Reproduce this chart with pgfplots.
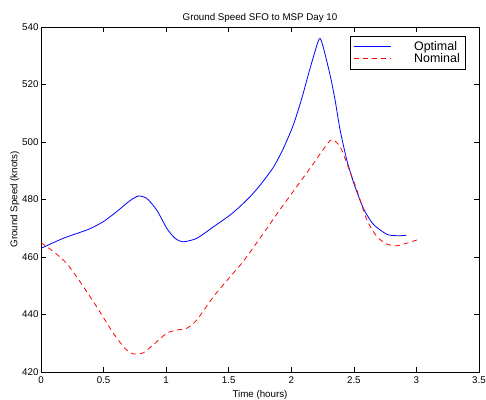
\documentclass[border=0pt]{standalone}
\usepackage{fontspec}
\setmainfont{Liberation Sans}
\usepackage{pgfplots}
\pgfplotsset{compat=1.18}

\begin{document}
\begin{tikzpicture}
\useasboundingbox (-41bp,-28bp) rectangle (445bp,372bp);
\begin{axis}[
    at={(0,0)}, anchor=south west,
    scale only axis,
    width=438bp, height=345bp,
    xmin=0, xmax=3.5,
    ymin=420, ymax=540,
    xtick={0,0.5,...,3.5},
    ytick={420,440,...,540},
    xticklabels={0,0.5,1,1.5,2,2.5,3,3.5},
    tick align=inside,
    major tick length=5bp,
    axis line style={line width=0.8pt},
    tick style={line width=0.6pt, black},
    /pgf/number format/assume math mode=true,
    tick label style={font=\fontsize{9.8}{11}\selectfont},
    yticklabel style={xshift=1bp},
    xticklabel style={yshift=-1bp},
    title={Ground Speed SFO to MSP Day 10},
    title style={font=\fontsize{9.8}{11}\selectfont, yshift=-5bp},
    xlabel={Time (hours)},
    ylabel={Ground Speed (knots)},
    label style={font=\fontsize{9.8}{11}\selectfont},
    xlabel style={yshift=0bp},
    ylabel style={yshift=-4bp},
    legend style={
        at={(axis description cs:1,1)}, anchor=north east,
        xshift=-14bp, yshift=-9.3bp,
        font=\fontsize{12.5}{11}\selectfont,
        inner xsep=3bp, inner ysep=3bp,
        row sep=-2.5bp, column sep=21bp,
    },
    legend cell align=left,
    legend image code/.code={
        \draw[#1] (0bp,0bp) -- (37bp,0bp);
    },
]
\addplot[color=blue, line width=0.8pt, smooth, tension=0.4] coordinates {
(0,463.0)(0.178,466.5)(0.378,469.6)(0.498,472.3)(0.605,475.8)(0.711,479.6)(0.778,481.2)(0.845,480.4)(0.925,476.3)(1.005,470)(1.071,466.5)(1.138,465.3)(1.245,466.5)(1.378,470.5)(1.511,474.6)(1.591,477.6)(1.671,481)(1.751,485)(1.857,491.2)(1.937,497.8)(2.017,506)(2.084,515.2)(2.150,525.6)(2.222,535.8)(2.252,533.5)(2.310,523.3)(2.350,514.6)(2.390,504.2)(2.444,493.7)(2.497,486)(2.577,476.8)(2.657,471.3)(2.763,467.9)(2.843,467.4)(2.918,467.5)
};
\addplot[color=red, line width=0.8pt, dash pattern=on 5bp off 4bp, smooth, tension=0.4] coordinates {
(0,465)(0.099,461.9)(0.205,457.8)(0.312,451.4)(0.445,442.7)(0.578,433.5)(0.671,428.2)(0.738,426.3)(0.818,426.7)(0.911,430)(1.005,433.5)(1.085,434.6)(1.165,435.2)(1.245,438.1)(1.378,446.2)(1.511,453.1)(1.617,458.5)(1.777,468.2)(1.910,476.5)(2.044,484.5)(2.177,492.5)(2.257,497.5)(2.324,500.9)(2.390,498.4)(2.444,492.6)(2.524,483.3)(2.604,472.9)(2.684,467.1)(2.763,464.5)(2.843,463.9)(2.937,465)(3.024,466.2)
};
\legend{Optimal, Nominal}
\end{axis}
\end{tikzpicture}
\end{document}
